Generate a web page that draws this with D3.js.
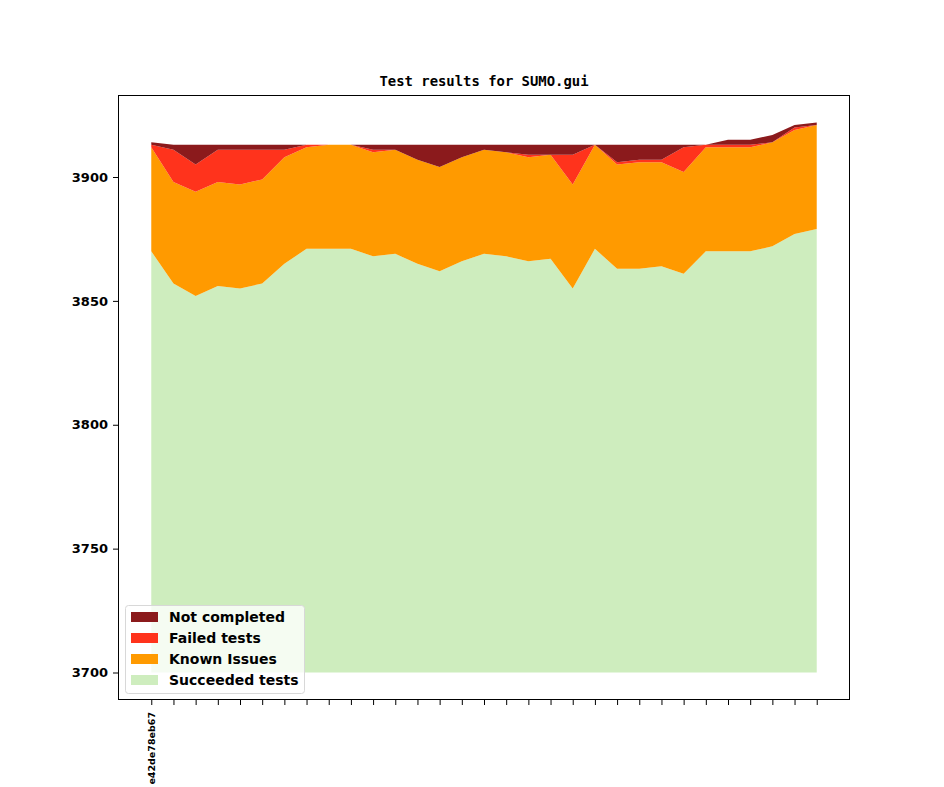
<!DOCTYPE html>
<html>
<head>
<meta charset="utf-8">
<style>
  body { margin: 0; background: #fff; }
  svg { display: block; }
</style>
</head>
<body>
  <svg width="944" height="787"></svg>

  <script src="https://d3js.org/d3.v7.min.js"></script>
  <script>
    // commits along the x axis (only the first one gets a label)
    const commits = ["e42de78eb67"].concat(d3.range(30).map(() => ""));

    // counts per commit
    const succeeded    = [3870, 3857, 3852, 3856, 3855, 3857, 3865, 3871, 3871, 3871, 3868, 3869, 3865, 3862, 3866, 3869,
                          3868, 3866, 3867, 3855, 3871, 3863, 3863, 3864, 3861, 3870, 3870, 3870, 3872, 3877, 3879];
    const knownIssues  = [42, 41, 42, 42, 42, 42, 43, 41, 42, 42, 42, 42, 42, 42, 42, 42,
                          42, 42, 42, 42, 42, 42, 43, 42, 41, 42, 42, 42, 42, 42, 42];
    const failed       = [1, 13, 11, 13, 14, 12, 3, 1, 0, 0, 1, 0, 0, 0, 0, 0,
                          0, 1, 0, 12, 0, 1, 1, 1, 10, 1, 1, 1, 0, 1, 0];
    const notCompleted = [1, 2, 8, 2, 2, 2, 2, 0, 0, 0, 2, 2, 6, 9, 5, 2,
                          3, 4, 4, 4, 0, 7, 6, 6, 1, 0, 2, 2, 3, 1, 1];

    const yTicks = [3700, 3750, 3800, 3850, 3900];
    const baseline = 3700;

    const seriesNames = ["Succeeded tests", "Known Issues", "Failed tests", "Not completed"];
    const seriesColors = ["#ceedbe", "#ff9a00", "#ff331c", "#8b1a1c"];

    const svg = d3.select("svg");
    const margin = { left: 118, top: 95, right: 850, bottom: 700 };

    // one row per commit, for d3.stack
    const rows = commits.map((c, i) => ({
      i: i,
      "Succeeded tests": succeeded[i],
      "Known Issues": knownIssues[i],
      "Failed tests": failed[i],
      "Not completed": notCompleted[i]
    }));

    const stacked = d3.stack().keys(seriesNames)(rows);

    // matplotlib-like 5% margins
    const n = commits.length;
    const yMax = d3.max(stacked[stacked.length - 1], d => d[1]);
    const yPad = (yMax - baseline) * 0.05;

    const x = d3.scaleLinear()
      .domain([-0.05 * (n - 1), (n - 1) * 1.05])
      .range([margin.left, margin.right]);

    const y = d3.scaleLinear()
      .domain([baseline - yPad, yMax + yPad])
      .range([margin.bottom, margin.top]);

    const color = d3.scaleOrdinal().domain(seriesNames).range(seriesColors);

    const area = d3.area()
      .x(d => x(d.data.i))
      .y0(d => y(Math.max(d[0], baseline)))
      .y1(d => y(d[1]));

    svg.append("g")
      .selectAll("path")
      .data(stacked)
      .join("path")
      .attr("fill", d => color(d.key))
      .attr("d", area);

    // frame
    svg.append("rect")
      .attr("x", margin.left + 0.5)
      .attr("y", margin.top + 0.5)
      .attr("width", margin.right - margin.left - 1)
      .attr("height", margin.bottom - margin.top - 1)
      .attr("fill", "none")
      .attr("stroke", "#000")
      .attr("stroke-width", 1);

    // y axis
    const yAxis = svg.append("g")
      .attr("transform", `translate(${margin.left},0)`)
      .call(d3.axisLeft(y).tickValues(yTicks).tickSize(5).tickPadding(5).tickFormat(d3.format("d")));
    yAxis.select(".domain").remove();
    yAxis.selectAll("text")
      .attr("font-family", "DejaVu Sans")
      .attr("font-weight", "bold")
      .attr("font-size", 13)
      .attr("fill", "#000");

    // x axis
    const xAxis = svg.append("g")
      .attr("transform", `translate(0,${margin.bottom})`)
      .call(d3.axisBottom(x).tickValues(d3.range(n)).tickSize(5).tickFormat(i => commits[i]));
    xAxis.select(".domain").remove();
    xAxis.selectAll("text")
      .attr("font-family", "DejaVu Sans")
      .attr("font-weight", "bold")
      .attr("font-size", 9.5)
      .attr("fill", "#000")
      .attr("transform", "rotate(-90)")
      .attr("text-anchor", "end")
      .attr("x", -12)
      .attr("y", 0)
      .attr("dy", "0.35em");

    // title
    svg.append("text")
      .attr("x", (margin.left + margin.right) / 2)
      .attr("y", 86)
      .attr("text-anchor", "middle")
      .attr("font-family", "DejaVu Sans Mono")
      .attr("font-weight", "bold")
      .attr("font-size", 13.9)
      .text("Test results for SUMO.gui");

    // legend (top entry = top layer)
    const legend = svg.append("g").attr("transform", "translate(125,605)");
    legend.append("rect")
      .attr("x", 0.5).attr("y", 0.5)
      .attr("width", 179).attr("height", 88)
      .attr("rx", 3)
      .attr("fill", "rgba(255,255,255,0.8)")
      .attr("stroke", "#d8d8d8");

    const items = legend.selectAll("g.item")
      .data(seriesNames.slice().reverse())
      .join("g")
      .attr("class", "item")
      .attr("transform", (d, i) => `translate(6,${12 + i * 21})`);

    items.append("rect")
      .attr("width", 27).attr("height", 10)
      .attr("y", -5)
      .attr("fill", d => color(d));

    items.append("text")
      .attr("x", 38)
      .attr("dy", "0.35em")
      .attr("font-family", "DejaVu Sans")
      .attr("font-weight", "bold")
      .attr("font-size", 14)
      .attr("fill", "#000")
      .text(d => d);
  </script>
</body>
</html>
